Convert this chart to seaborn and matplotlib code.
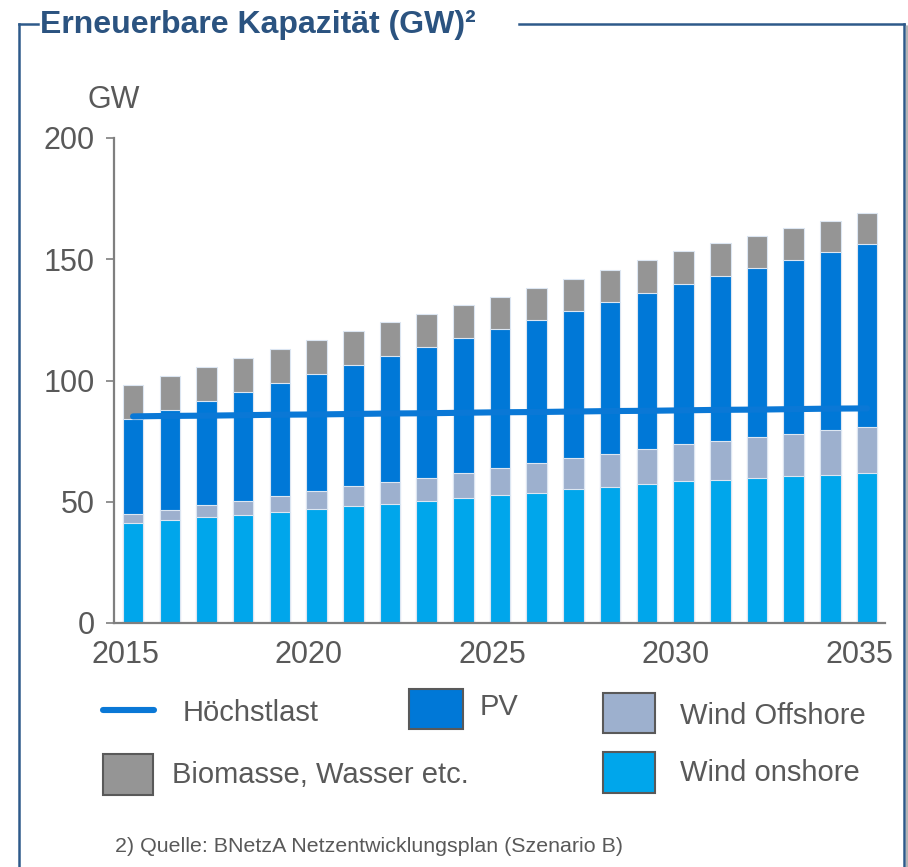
"""
plot.py
Erneuerbare Kapazität (GW) 2015-2035, stacked bars + Höchstlast line
"""

import numpy as np
import pandas as pd
import matplotlib
matplotlib.use('Agg')
import matplotlib.pyplot as plt
from matplotlib import font_manager
from matplotlib.patches import Rectangle
from matplotlib.lines import Line2D
from matplotlib.transforms import ScaledTranslation
import seaborn as sns


# ══════════════════════════════════════════════════════
#  DATA (GW)
# ══════════════════════════════════════════════════════
years = list(range(2015, 2036))

wind_onshore = [41.2, 42.3, 43.6, 44.5, 45.7, 46.9, 48.2, 49.2, 50.2, 51.5, 52.7,
                53.8, 55.1, 56.2, 57.3, 58.5, 59.1, 59.8, 60.6, 61.0, 61.7]
wind_offshore = [3.6, 4.4, 4.9, 6.0, 6.6, 7.4, 8.1, 8.9, 9.8, 10.5, 11.3,
                 12.0, 12.8, 13.6, 14.3, 15.2, 16.1, 16.8, 17.3, 18.5, 19.0]
pv = [39.2, 41.0, 43.1, 44.8, 46.7, 48.3, 50.0, 51.9, 53.8, 55.5, 57.3,
      59.2, 60.9, 62.7, 64.6, 66.2, 68.0, 69.9, 71.9, 73.6, 75.6]
biomasse = [14.1, 14.1, 13.9, 13.9, 14.0, 14.1, 14.1, 14.0, 13.6, 13.5, 13.3,
            13.3, 13.2, 13.2, 13.3, 13.3, 13.3, 13.1, 12.9, 12.8, 12.8]
hoechstlast = [85.2, 85.4, 85.5, 85.7, 85.9, 86.0, 86.2, 86.4, 86.5, 86.7, 86.9,
               87.0, 87.2, 87.4, 87.5, 87.7, 87.9, 88.0, 88.2, 88.4, 88.5]

y_ticks = [0, 50, 100, 150, 200]
x_tick_years = [2015, 2020, 2025, 2030, 2035]

# colours
C_ONSHORE = '#00A6EB'
C_OFFSHORE = '#9DB0CE'
C_PV = '#0078D7'
C_BIO = '#959595'
C_LINE = '#0A78D6'
C_TEXT = '#595959'
C_FRAME = '#2E5A8A'

W, H = 908, 867


def fx(px):
    return px / W


def fy(py):
    return 1 - py / H


# ══════════════════════════════════════════════════════
#  FIGURE
# ══════════════════════════════════════════════════════
sns.set_style('white')
plt.rcParams['font.family'] = ['Liberation Sans', 'DejaVu Sans']

df = pd.DataFrame({
    'year': years,
    'onshore': wind_onshore,
    'offshore': wind_offshore,
    'pv': pv,
    'bio': biomasse,
})
# cumulative tops for stacking (drawn back to front)
df['top_onshore'] = df['onshore']
df['top_offshore'] = df['top_onshore'] + df['offshore']
df['top_pv'] = df['top_offshore'] + df['pv']
df['top_bio'] = df['top_pv'] + df['bio']

fig = plt.figure(figsize=(W / 100, H / 100), dpi=100)
ax = fig.add_axes([fx(114), fy(623), fx(885) - fx(114), fy(138) - fy(623)])

bar_kw = dict(width=0.56, edgecolor='#DCE6F2', linewidth=0.8,
              saturation=1, errorbar=None, ax=ax)
for col, color in [('top_bio', C_BIO), ('top_pv', C_PV),
                   ('top_offshore', C_OFFSHORE), ('top_onshore', C_ONSHORE)]:
    sns.barplot(data=df, x='year', y=col, color=color, **bar_kw)

pos = np.arange(len(years))
sns.lineplot(x=pos, y=hoechstlast, color=C_LINE, linewidth=4.4, ax=ax,
             zorder=5, solid_capstyle='round')

ax.set_xlim(-0.52, 20.49)
ax.set_ylim(0, 200)
ax.set_xlabel('')
ax.set_ylabel('')

ax.set_xticks([years.index(y) for y in x_tick_years])
ax.set_xticklabels([str(y) for y in x_tick_years])
ax.set_yticks(y_ticks)
ax.set_yticklabels([str(v) for v in y_ticks])

ax.tick_params(axis='x', length=0, pad=12, labelsize=22, labelcolor=C_TEXT)
ax.tick_params(axis='y', left=True, length=6, width=1.2, color='#7F7F7F',
               direction='out', pad=8, labelsize=22, labelcolor=C_TEXT)
for lab in ax.get_xticklabels():
    lab.set_transform(lab.get_transform()
                      + ScaledTranslation(-8 / 100, 0, fig.dpi_scale_trans))

for side in ['top', 'right']:
    ax.spines[side].set_visible(False)
for side in ['left', 'bottom']:
    ax.spines[side].set_color('#7F7F7F')
    ax.spines[side].set_linewidth(1.6)

fig.text(fx(114), fy(100), 'GW', ha='center', va='center',
         fontsize=22, color=C_TEXT)

# ══════════════════════════════════════════════════════
#  TITLE + FRAME
# ══════════════════════════════════════════════════════
try:
    font_manager.findfont('Liberation Sans Narrow', fallback_to_default=False)
    title_family, title_size = ['Liberation Sans Narrow', 'DejaVu Sans'], 27
except ValueError:
    title_family, title_size = ['Liberation Sans', 'DejaVu Sans'], 23

fig.text(fx(40), fy(33), 'Erneuerbare Kapazität (GW)²', ha='left',
         va='baseline', fontsize=title_size, fontweight='bold',
         color='#2B5380', family=title_family)

frame = [
    ([19, 19], [24, 867]),
    ([19, 38], [24, 24]),
    ([519, 904], [24, 24]),
    ([904, 904], [24, 867]),
]
fig.add_artist(Line2D([fx(906.5), fx(906.5)], [fy(26), fy(867)],
                      transform=fig.transFigure, color='#A6A6A6', lw=1.2))
for xs, ys in frame:
    fig.add_artist(Line2D([fx(v) for v in xs], [fy(v) for v in ys],
                          transform=fig.transFigure, color=C_FRAME, lw=1.8,
                          solid_capstyle='projecting'))

# ══════════════════════════════════════════════════════
#  LEGEND (hand placed, like the original slide)
# ══════════════════════════════════════════════════════
def legend_box(x0, y0, x1, y1, color):
    fig.add_artist(Rectangle((fx(x0), fy(y1)), fx(x1) - fx(x0), fy(y0) - fy(y1),
                             transform=fig.transFigure, facecolor=color,
                             edgecolor='#595959', lw=1.5))


fig.add_artist(Line2D([fx(103), fx(154)], [fy(710), fy(710)],
                      transform=fig.transFigure, color=C_LINE, lw=4.4))
legend_box(409, 689, 463, 729, C_PV)
legend_box(603, 693, 655, 733, C_OFFSHORE)
legend_box(103, 754, 153, 795, C_BIO)
legend_box(603, 752, 655, 793, C_ONSHORE)

leg_items = [
    ('Höchstlast', 183, 713),
    ('PV', 480, 707),
    ('Wind Offshore', 680, 716),
    ('Biomasse, Wasser etc.', 172, 775),
    ('Wind onshore', 680, 773),
]
for txt, x, y in leg_items:
    fig.text(fx(x), fy(y), txt, ha='left', va='center', fontsize=21,
             color=C_TEXT)

fig.text(fx(115), fy(846), '2) Quelle: BNetzA Netzentwicklungsplan (Szenario B)',
         ha='left', va='center', fontsize=15.4, color=C_TEXT)

fig.savefig('out.png', dpi=100)
plt.close(fig)
